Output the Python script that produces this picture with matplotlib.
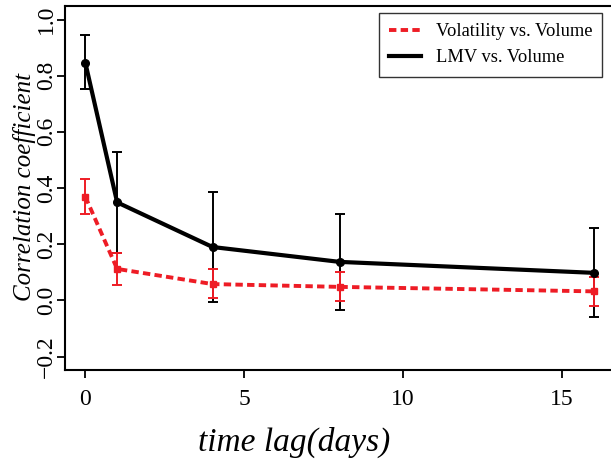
import matplotlib
matplotlib.use("Agg")
import matplotlib.pyplot as plt

# time lags in days
lags = [0, 1, 4, 8, 16]

# LMV vs. Volume
lmv_mean = [0.846, 0.349, 0.190, 0.137, 0.098]
lmv_low = [0.751, 0.169, -0.007, -0.033, -0.061]
lmv_high = [0.945, 0.528, 0.385, 0.306, 0.256]

# Volatility vs. Volume
vol_mean = [0.369, 0.112, 0.058, 0.048, 0.032]
vol_low = [0.307, 0.056, 0.009, -0.004, -0.019]
vol_high = [0.433, 0.169, 0.112, 0.101, 0.082]

x_ticks = [0, 5, 10, 15]
y_ticks = [-0.2, 0.0, 0.2, 0.4, 0.6, 0.8, 1.0]

RED = "#ee1c25"

plt.rcParams["font.family"] = ["Liberation Serif", "DejaVu Serif"]

fig = plt.figure(figsize=(6.11, 4.66), dpi=100)
ax = fig.add_axes([0.1064, 0.206, 0.899, 0.781])


def _err(mean, low, high):
    return [[m - lo for m, lo in zip(mean, low)], [hi - m for m, hi in zip(mean, high)]]


ax.errorbar(lags, lmv_mean, yerr=_err(lmv_mean, lmv_low, lmv_high), fmt="none",
            ecolor="black", elinewidth=1.4, capsize=3.8, capthick=1.4, zorder=2)
ax.errorbar(lags, vol_mean, yerr=_err(vol_mean, vol_low, vol_high), fmt="none",
            ecolor=RED, elinewidth=1.4, capsize=3.8, capthick=1.4, zorder=2)
ax.plot(lags, vol_mean, color=RED, linestyle=(0, (1.9, 1.1)), linewidth=2.8,
        marker="s", markersize=5, zorder=3)
ax.plot(lags, lmv_mean, color="black", linewidth=3, marker="o", markersize=5.5,
        zorder=4)

# legend handles carry no markers in the original
ax.plot([], [], color=RED, linestyle=(0, (1.9, 1.1)), linewidth=2.8,
        label="Volatility vs. Volume")
ax.plot([], [], color="black", linewidth=3, label="LMV vs. Volume")

ax.set_xlim(-0.64, 16.64)
ax.set_ylim(-0.248, 1.048)
ax.set_xticks(x_ticks)
ax.set_yticks(y_ticks)
ax.set_xticklabels([str(t) for t in x_ticks])
ax.set_yticklabels([f"{t:.1f}".replace("-", "\u2212") for t in y_ticks],
                   rotation=90, va="center")
ax.tick_params(axis="both", labelsize=17, length=6, width=1.3, direction="out")
ax.tick_params(axis="x", pad=8)
ax.tick_params(axis="y", pad=0)
for spine in ax.spines.values():
    spine.set_linewidth(1.5)

ax.set_xlabel("time lag(days)", fontsize=24, style="italic")
ax.xaxis.set_label_coords(0.417, -0.155)
ax.set_ylabel("Correlation coefficient", fontsize=18, style="italic")
ax.yaxis.set_label_coords(-0.052, 0.504)

legend = ax.legend(loc="upper right", bbox_to_anchor=(0.978, 0.981), borderaxespad=0,
                   fontsize=13.3, frameon=True, fancybox=False, edgecolor="black",
                   handlelength=1.7, borderpad=0.55, labelspacing=0.5,
                   handletextpad=0.8)
legend.get_frame().set_linewidth(1.0)

fig.savefig("out.png", dpi=100)
